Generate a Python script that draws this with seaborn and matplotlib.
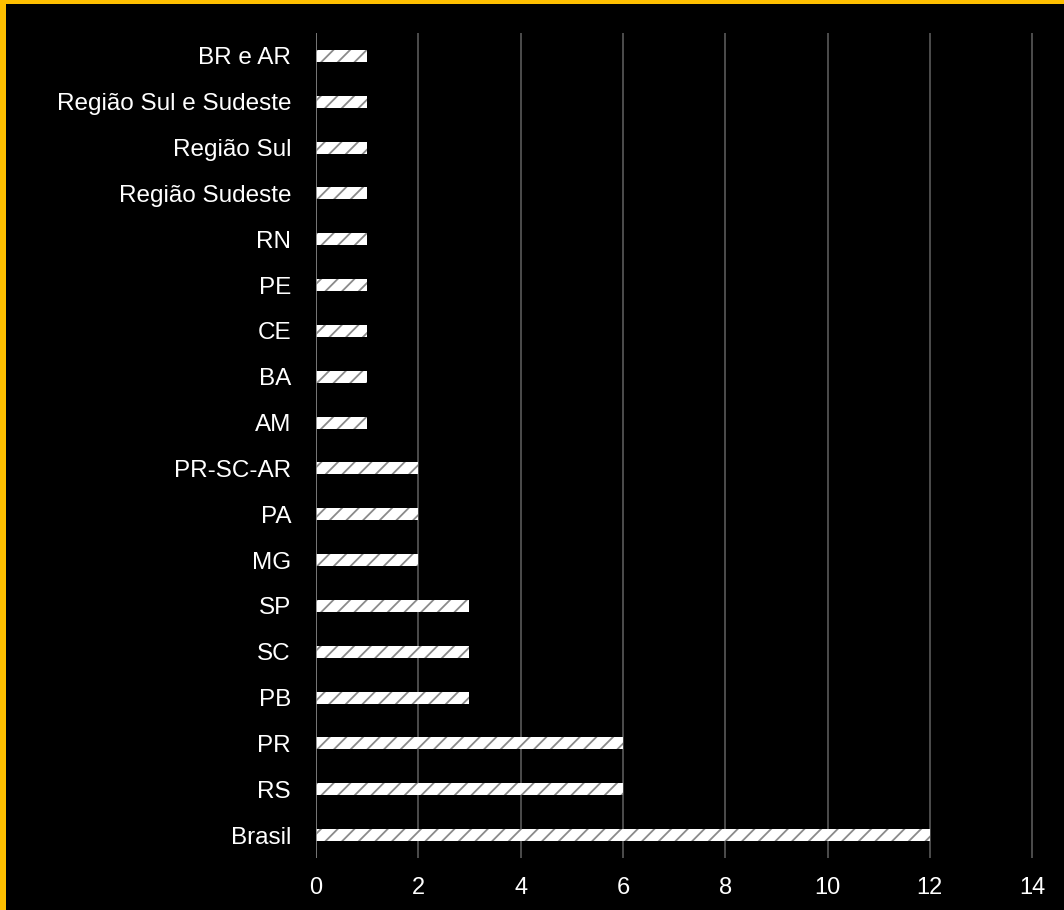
import matplotlib
matplotlib.use("Agg")
import matplotlib.pyplot as plt
import seaborn as sns
import pandas as pd
from matplotlib.patches import Rectangle

categories = ["BR e AR", "Região Sul e Sudeste", "Região Sul", "Região Sudeste",
              "RN", "PE", "CE", "BA", "AM", "PR-SC-AR", "PA", "MG",
              "SP", "SC", "PB", "PR", "RS", "Brasil"]
counts = [1, 1, 1, 1, 1, 1, 1, 1, 1, 2, 2, 2, 3, 3, 3, 6, 6, 12]
x_ticks = [0, 2, 4, 6, 8, 10, 12, 14]

sns.set_theme(style="dark")
plt.rcParams["font.family"] = ["Liberation Sans", "DejaVu Sans"]
plt.rcParams["hatch.linewidth"] = 1.3

df = pd.DataFrame({"local": categories, "n": counts})

fig = plt.figure(figsize=(10.64, 9.10), dpi=100, facecolor="black")
ax = fig.add_axes([0.297, 0.0571, 0.6755, 0.9066])
ax.set_facecolor("black")

sns.barplot(data=df, x="n", y="local", order=categories, orient="h",
            width=0.26, color="white", ax=ax, zorder=3)
for bar in ax.patches:
    bar.set_facecolor("white")
    bar.set_edgecolor("#8a8a8a")
    bar.set_linewidth(0)
    bar.set_hatch("//")

ax.set_xlim(0, 14.05)
ax.set_xticks(x_ticks)
ax.set_xticklabels([str(t) for t in x_ticks])
ax.set_ylim(len(categories) - 0.5, -0.5)
ax.set_xlabel("")
ax.set_ylabel("")

ax.grid(False)
for t in x_ticks[1:]:
    ax.axvline(t, color="#595959", linewidth=1.2, zorder=1)
ax.axvline(0, color="#8c8c8c", linewidth=1.2, zorder=4)
for s in ax.spines.values():
    s.set_visible(False)

ax.tick_params(axis="y", length=0, pad=18, labelsize=17.5, labelcolor="white")
ax.tick_params(axis="x", length=0, pad=14, labelsize=17, labelcolor="white")

# frame accents along the left and top edges
fig.patches.append(Rectangle((0, 0), 6 / 1064, 1, transform=fig.transFigure,
                             facecolor="#FFC000", edgecolor="none", zorder=10))
fig.patches.append(Rectangle((0, 1 - 4 / 910), 1, 4 / 910, transform=fig.transFigure,
                             facecolor="#FFC000", edgecolor="none", zorder=10))

fig.savefig("out.png", dpi=100, facecolor="black")
